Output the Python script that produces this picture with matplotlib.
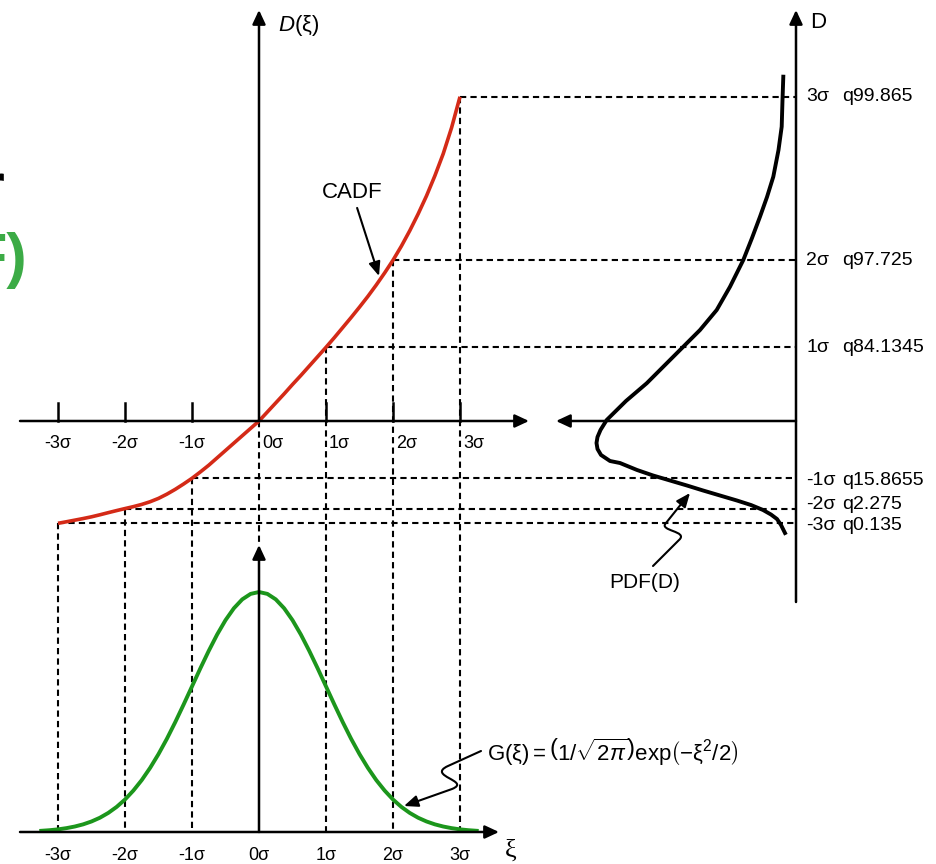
import matplotlib.pyplot as plt
from matplotlib.path import Path
from matplotlib.patches import FancyArrowPatch

plt.rcParams['font.family'] = ['Liberation Sans', 'DejaVu Sans']
plt.rcParams['mathtext.fontset'] = 'custom'
plt.rcParams['mathtext.rm'] = 'Liberation Sans'
plt.rcParams['mathtext.it'] = 'Liberation Sans:italic'
plt.rcParams['mathtext.bf'] = 'Liberation Sans:bold'

# CADF D(xi)
cadf_xi = [-3, -2.875, -2.75, -2.625, -2.5, -2.375, -2.25, -2.125, -2, -1.875, -1.75, -1.625,
           -1.5, -1.375, -1.25, -1.125, -1, -0.875, -0.75, -0.625, -0.5, -0.375, -0.25, -0.125, 0,
           0.125, 0.25, 0.375, 0.5, 0.625, 0.75, 0.875, 1, 1.125, 1.25, 1.375, 1.5,
           1.625, 1.75, 1.875, 2, 2.125, 2.25, 2.375, 2.5, 2.625, 2.75, 2.875, 3]
cadf_d = [-1.527, -1.504, -1.480, -1.456, -1.430, -1.400, -1.368, -1.337, -1.307, -1.278, -1.245, -1.205,
          -1.155, -1.092, -1.020, -0.940, -0.855, -0.760, -0.660, -0.550, -0.440, -0.330, -0.220, -0.110, 0,
          0.135, 0.270, 0.405, 0.545, 0.680, 0.820, 0.960, 1.100, 1.245, 1.395, 1.545, 1.700,
          1.860, 2.030, 2.210, 2.400, 2.610, 2.840, 3.090, 3.360, 3.660, 3.990, 4.380, 4.840]

# gaussian G(xi), green curve
g_xi = [-3.25, -3.125, -3, -2.875, -2.75, -2.625, -2.5, -2.375, -2.25, -2.125, -2, -1.875, -1.75,
        -1.625, -1.5, -1.375, -1.25, -1.125, -1, -0.875, -0.75, -0.625, -0.5, -0.375, -0.25, -0.125, 0,
        0.125, 0.25, 0.375, 0.5, 0.625, 0.75, 0.875, 1, 1.125, 1.25, 1.375, 1.5, 1.625,
        1.75, 1.875, 2, 2.125, 2.25, 2.375, 2.5, 2.625, 2.75, 2.875, 3, 3.125, 3.25]
g_val = [0.0020, 0.0030, 0.0044, 0.0064, 0.0091, 0.0127, 0.0175, 0.0237, 0.0317, 0.0417, 0.0540, 0.0689, 0.0863,
         0.1066, 0.1295, 0.1549, 0.1826, 0.2119, 0.2420, 0.2721, 0.3011, 0.3282, 0.3521, 0.3719, 0.3867, 0.3958, 0.3989,
         0.3958, 0.3867, 0.3719, 0.3521, 0.3282, 0.3011, 0.2721, 0.2420, 0.2119, 0.1826, 0.1549, 0.1295, 0.1066,
         0.0863, 0.0689, 0.0540, 0.0417, 0.0317, 0.0237, 0.0175, 0.0127, 0.0091, 0.0064, 0.0044, 0.0030, 0.0020]

# PDF(D), black curve on the right (D level, density)
pdf_d = [5.139, 4.791, 4.393, 4.045, 3.646, 3.343, 3.049, 2.731, 2.403, 2.004, 1.657, 1.358, 1.109,
         0.836, 0.563, 0.299, 0.015, -0.134, -0.239, -0.328, -0.418, -0.507, -0.597, -0.627, -0.731,
         -0.813, -0.888, -0.963, -1.037, -1.112, -1.187, -1.254, -1.328, -1.396, -1.463, -1.552, -1.672]
pdf_val = [0.0635, 0.0675, 0.0715, 0.0875, 0.1135, 0.145, 0.180, 0.220, 0.2635, 0.330, 0.3965, 0.480, 0.5635,
           0.655, 0.7465, 0.850, 0.9465, 0.9775, 0.9925, 0.9975, 0.9925, 0.975, 0.930, 0.880, 0.795,
           0.715, 0.630, 0.545, 0.465, 0.380, 0.295, 0.225, 0.165, 0.125, 0.095, 0.075, 0.055]

sigma_ticks = [-3, -2, -1, 0, 1, 2, 3]
sigma_labels = ['-3σ', '-2σ', '-1σ', '0σ', '1σ', '2σ', '3σ']
right_levels = [3, 2, 1, -1, -2, -3]
right_sigma = ['3σ', '2σ', '1σ', '-1σ', '-2σ', '-3σ']
right_q = ['q99.865', 'q97.725', 'q84.1345', 'q15.8655', 'q2.275', 'q0.135']

RED = '#d42a17'
GREEN = '#1c961c'
W, H = 937, 864
X0, Y0, SX = 259, 421, 67     # xi origin (px) and px per sigma / per D unit
GY0, SG = 832, 601.6          # gaussian baseline (px) and px per density unit
PX0, SP = 796, 200            # PDF(D) baseline (px) and px per density unit

fig = plt.figure(figsize=(W / 100, H / 100), dpi=100)
ax = fig.add_axes([0, 0, 1, 1])
ax.set_xlim(-X0 / SX, (W - X0) / SX)
ax.set_ylim(-(H - Y0) / SX, Y0 / SX)
axg = fig.add_axes([0, 0, 1, 1])
axg.set_xlim(ax.get_xlim())
axg.set_ylim(-(H - GY0) / SG, GY0 / SG)
axp = fig.add_axes([0, 0, 1, 1])
axp.set_xlim(PX0 / SP, -(W - PX0) / SP)
axp.set_ylim(ax.get_ylim())
for a in (ax, axg, axp):
    a.set_axis_off()


def px(a, x, y):
    # picture pixel -> data coords of axes a
    return tuple(a.transData.inverted().transform((x, H - y)))


def arrow(a, start, end, lw=1.8):
    a.annotate('', xy=end, xytext=start,
               arrowprops=dict(arrowstyle='-|>,head_length=0.6,head_width=0.28', color='k',
                               lw=lw, shrinkA=0, shrinkB=0, mutation_scale=14))


def squiggle(a, pts, codes):
    verts = [px(a, x, y) for x, y in pts]
    p = FancyArrowPatch(path=Path(verts, codes), arrowstyle='-|>,head_length=0.6,head_width=0.25',
                        mutation_scale=14, color='k', lw=1.5)
    a.add_patch(p)


dash = dict(color='k', lw=1.5, ls=(0, (3, 2)))
d_at = dict(zip(cadf_xi, cadf_d))
x_right = ax.transData.inverted().transform(axp.transData.transform((0, 0)))[0]
y_bottom = ax.transData.inverted().transform(axg.transData.transform((0, 0)))[1]
g_top = px(axg, X0, 545)[1]
y_gtop = ax.transData.inverted().transform(axg.transData.transform((0, g_top)))[1]

# dashed projections
for s in sigma_ticks:
    d = d_at[s]
    if s == 0:
        ax.plot([0, 0], [0, y_gtop], **dash)
        continue
    ax.plot([s, s], [d, y_bottom], **dash)
    ax.plot([s, x_right], [d, d], **dash)
    ax.plot([s, s], [0, 18 / SX], color='k', lw=1.8)

# top panel axes
arrow(ax, px(ax, 20, Y0), px(ax, 529, Y0))
arrow(ax, (0, 0), px(ax, X0, 10))
ax.plot(cadf_xi, cadf_d, color=RED, lw=2.6, solid_capstyle='butt', solid_joinstyle='round')
for s, lab in zip(sigma_ticks, sigma_labels):
    if s < 0:
        ax.text(s, -22 / SX, lab, ha='center', va='center', fontsize=13)
    else:
        ax.text(s + 3 / SX, -22 / SX, lab, ha='left', va='center', fontsize=13)
ax.text(*px(ax, 278, 26), r'$D$(ξ)', ha='left', va='center', fontsize=16)
ax.annotate('CADF', xy=px(ax, 379, 276), xytext=px(ax, 352, 192), ha='center', va='center',
            fontsize=16, arrowprops=dict(arrowstyle='-|>,head_length=0.6,head_width=0.25',
                                         color='k', lw=1.5, shrinkB=0, mutation_scale=14))

# bottom panel: gaussian
arrow(axg, px(axg, 20, GY0), px(axg, 499, GY0))
arrow(axg, (0, 0), (0, g_top))
axg.plot(g_xi, g_val, color=GREEN, lw=2.8, solid_joinstyle='round')
for s, lab in zip(sigma_ticks, sigma_labels):
    axg.text(s, -23 / SG, lab, ha='center', va='center', fontsize=13)
axg.text(*px(axg, 505, 851), 'ξ', ha='left', va='center', fontsize=19, family='Liberation Serif')
axg.text(*px(axg, 487, 752),
         r'$\mathrm{G}(\mathrm{\xi})=\left(1/\sqrt{2\pi}\right)\mathrm{exp}\left(-\mathrm{\xi}^2/2\right)$',
         ha='left', va='center', fontsize=16)
squiggle(axg, [(481, 751), (448, 766), (426, 776), (472, 781), (452, 789), (404, 806)],
         [Path.MOVETO, Path.LINETO, Path.CURVE4, Path.CURVE4, Path.CURVE4, Path.LINETO])

# right panel: PDF(D)
arrow(axp, px(axp, PX0, 602), px(axp, PX0, 10))
arrow(axp, (0, 0), px(axp, 556, Y0))
axp.plot(pdf_val, pdf_d, color='k', lw=2.8, solid_joinstyle='round')
axp.text(*px(axp, 810, 22), 'D', ha='left', va='center', fontsize=16)
nudge = {3: 0, 2: 0, 1: 0, -1: -2, -2: 4, -3: -2}
for lev, sl, ql in zip(right_levels, right_sigma, right_q):
    yy = d_at[lev] + nudge[lev] / SX
    axp.text(-10 / SP, yy, sl, ha='left', va='center', fontsize=14)
    axp.text(-46 / SP, yy, ql, ha='left', va='center', fontsize=14)
axp.text(*px(axp, 645, 582), 'PDF(D)', ha='center', va='center', fontsize=15)
squiggle(axp, [(653, 566), (679, 540), (689, 531), (658, 531), (666, 523), (690, 493)],
         [Path.MOVETO, Path.LINETO, Path.CURVE4, Path.CURVE4, Path.CURVE4, Path.LINETO])

# clipped slide title fragments on the left edge
fig.text(-19 / W, 1 - 206 / H, 'r', ha='left', va='baseline', fontsize=44, fontweight='bold', color='k')
fig.text(28 / W, 1 - 276 / H, 'F)', ha='right', va='baseline', fontsize=44, fontweight='bold', color='#3cab46')

fig.savefig('out.png', dpi=100)
